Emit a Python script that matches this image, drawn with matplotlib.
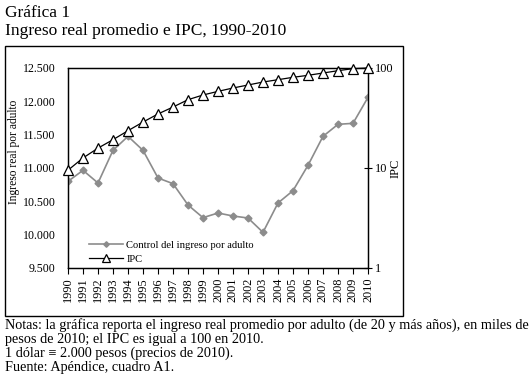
import matplotlib
matplotlib.use("Agg")
import matplotlib.pyplot as plt
from matplotlib.patches import Rectangle
from matplotlib.ticker import FuncFormatter, FixedLocator, NullLocator

years = list(range(1990, 2011))
ingreso = [10800, 10965, 10775, 11265, 11475, 11265, 10850, 10765, 10445, 10255,
           10325, 10280, 10250, 10035, 10475, 10660, 11040, 11475, 11655, 11670, 12060]
ipc = [9.5, 12.6, 15.8, 19.2, 23.6, 28.8, 34.7, 40.7, 48.2, 53.7,
       58.4, 63.1, 67.6, 72.4, 76.4, 80.7, 84.5, 89.1, 94.0, 98.5, 100.0]
left_ticks = [9500, 10000, 10500, 11000, 11500, 12000, 12500]
right_ticks = [1, 10, 100]

plt.rcParams['font.family'] = ['Liberation Serif', 'DejaVu Serif']

W, H = 532, 376
fig = plt.figure(figsize=(W / 100, H / 100), dpi=100)

def fx(x):
    return x / W

def fy(y):
    return 1 - y / H

# outer frame
fig.patches.append(Rectangle((fx(4.5), fy(316)), fx(403) - fx(4.5), fy(46) - fy(316),
                             transform=fig.transFigure, fill=False, lw=1.0,
                             edgecolor='black'))

fig.text(fx(5), fy(13), "Gráfica 1", fontsize=12.5, va='center', ha='left')
fig.text(fx(5), fy(31), "Ingreso real promedio e IPC, 1990-2010", fontsize=12.5,
         va='center', ha='left')

ax = fig.add_axes([fx(68), fy(268), fx(368) - fx(68), fy(68) - fy(268)])
ax2 = ax.twinx()

l1, = ax.plot(years, ingreso, color='#8c8c8c', lw=1.2, marker='D', markersize=3.5,
              markerfacecolor='#8c8c8c', markeredgecolor='#8c8c8c',
              label='Control del ingreso por adulto', zorder=3)
l2, = ax2.plot(years, ipc, color='black', lw=0.9, marker='^', markersize=6.5,
               markerfacecolor='white', markeredgecolor='black', markeredgewidth=0.9,
               label='IPC', clip_on=False, zorder=4)

ax.set_xlim(1990, 2010)
ax.set_ylim(9500, 12500)
ax.yaxis.set_major_locator(FixedLocator(left_ticks))
ax.yaxis.set_major_formatter(FuncFormatter(lambda v, p: f"{int(v):,}".replace(",", ".")))
ax.set_xticks(years)
ax.set_xticklabels([str(y) for y in years], rotation=90, fontsize=8.8)
ax.tick_params(axis='x', direction='out', length=4, width=0.8, pad=3)
ax.tick_params(axis='y', length=0, labelsize=8.6, pad=9)

ax2.set_yscale('log')
ax2.set_ylim(1, 100)
ax2.yaxis.set_major_locator(FixedLocator(right_ticks))
ax2.yaxis.set_minor_locator(NullLocator())
ax2.yaxis.set_major_formatter(FuncFormatter(lambda v, p: f"{int(v)}"))
ax2.tick_params(axis='y', direction='inout', length=6, width=0.8, labelsize=8.8, pad=2)

for a in (ax, ax2):
    for s in a.spines.values():
        s.set_linewidth(0.9)

ax.set_ylabel("Ingreso real por adulto", fontsize=8.3)
ax.yaxis.set_label_coords(-0.16, 0.58)
ax2.set_ylabel("IPC", fontsize=9)
ax2.yaxis.set_label_coords(1.072, 0.5)

ax.legend(handles=[l1, l2], loc='lower left', bbox_to_anchor=(0.05, -0.012),
          frameon=False, fontsize=7.6, handlelength=3.2, handletextpad=0.3,
          labelspacing=0.45, borderaxespad=0.2, markerscale=0.8)

notes = ["Notas: la gráfica reporta el ingreso real promedio por adulto (de 20 y más años), en miles de",
         "pesos de 2010; el IPC es igual a 100 en 2010.",
         "1 dólar ≡ 2.000 pesos (precios de 2010).",
         "Fuente: Apéndice, cuadro A1."]
for i, t in enumerate(notes):
    fig.text(fx(5), fy(325 + 14.2 * i), t, fontsize=10.3, va='center', ha='left')

fig.savefig("out.png", dpi=100)
